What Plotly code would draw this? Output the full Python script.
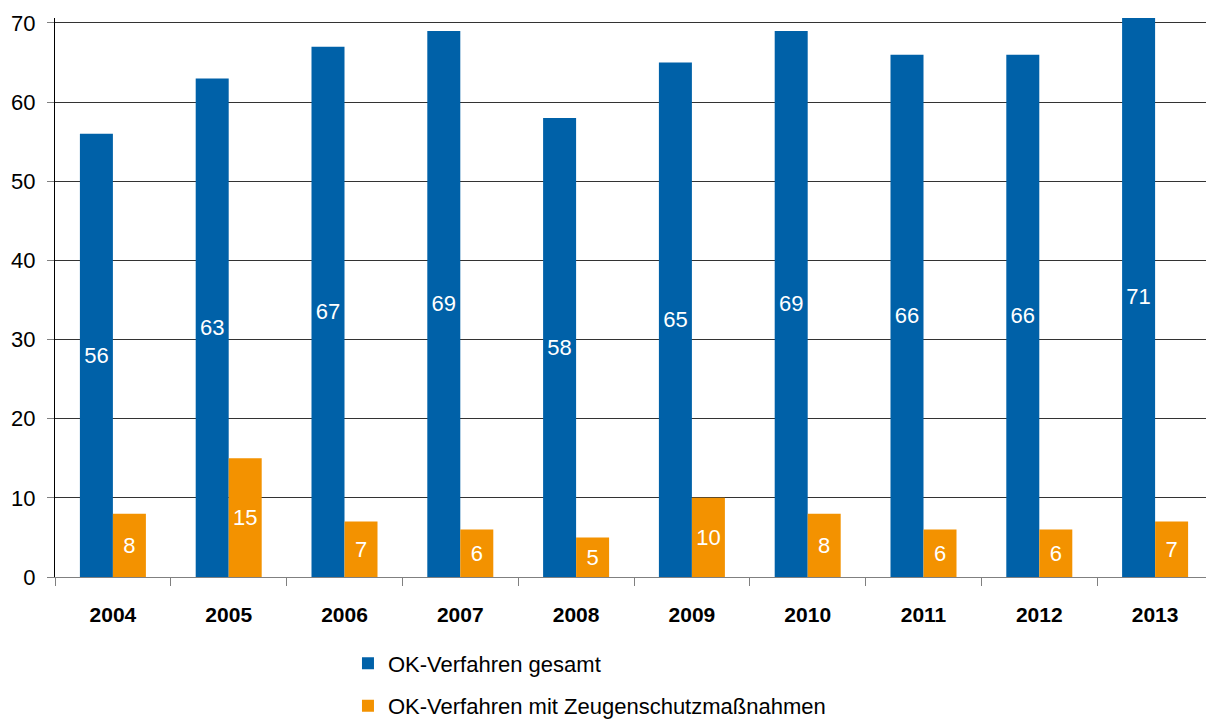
import plotly.graph_objects as go

years = ["2004", "2005", "2006", "2007", "2008", "2009", "2010", "2011", "2012", "2013"]
gesamt = [56, 63, 67, 69, 58, 65, 69, 66, 66, 71]
zeugenschutz = [8, 15, 7, 6, 5, 10, 8, 6, 6, 7]

BLUE = "#0061A8"
ORANGE = "#F39200"
FONT = "Liberation Sans, Arial, sans-serif"

fig = go.Figure()
fig.add_trace(go.Bar(
    x=years, y=gesamt, name="OK-Verfahren gesamt", legendgroup="a",
    marker=dict(color=BLUE, line=dict(width=0)),
    texttemplate="%{y}", textposition="inside", insidetextanchor="middle",
    textangle=0, constraintext="none",
    textfont=dict(color="white", size=22, family=FONT),
))
fig.add_trace(go.Bar(
    x=years, y=zeugenschutz, name="OK-Verfahren mit Zeugenschutzmaßnahmen", legendgroup="b",
    marker=dict(color=ORANGE, line=dict(width=0)),
    texttemplate="%{y}", textposition="inside", insidetextanchor="middle",
    textangle=0, constraintext="none",
    textfont=dict(color="white", size=22, family=FONT),
))

fig.update_layout(
    width=1214, height=721,
    margin=dict(l=47, r=9, t=10, b=152, autoexpand=False),
    paper_bgcolor="white", plot_bgcolor="white",
    barmode="group", bargap=0.43, bargroupgap=0,
    font=dict(family=FONT, color="black"),
    showlegend=True,
    legend=dict(
        orientation="v", x=0.253, xanchor="left", y=-0.117, yanchor="top",
        font=dict(size=22, family=FONT, color="black"),
        itemwidth=30, tracegroupgap=11,
        bgcolor="rgba(0,0,0,0)",
    ),
    xaxis=dict(
        type="category", showgrid=False, automargin=False,
        ticks="outside", tickson="boundaries", ticklen=8, tickcolor="#808080", tickwidth=1,
        showline=True, linecolor="#808080", linewidth=1,
        tickfont=dict(size=21, family=FONT, color="black", weight="bold"),
        ticklabelstandoff=19,
    ),
    yaxis=dict(
        range=[0, 70.63], tickvals=[0, 10, 20, 30, 40, 50, 60, 70],
        automargin=False,
        showgrid=True, gridcolor="#333333", gridwidth=1,
        zeroline=False,
        showline=True, linecolor="#000000", linewidth=1,
        ticks="outside", ticklen=7, tickcolor="#808080",
        tickfont=dict(size=22, family=FONT, color="black"),
        ticklabelstandoff=7,
    ),
)

fig.write_html("out.html")
